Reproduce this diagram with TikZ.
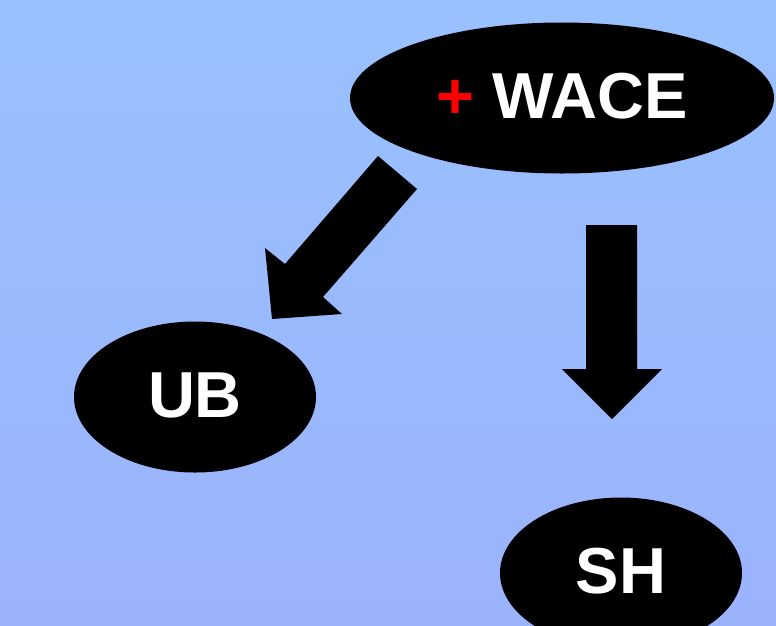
\documentclass[tikz,border=0pt]{standalone}
\usepackage{fontspec}
\setmainfont{Liberation Sans}
\usetikzlibrary{shapes.geometric}
\definecolor{bgtop}{HTML}{99C1FF}
\definecolor{bgbot}{HTML}{9BB3FD}
\tikzset{
  bubble/.style={ellipse, fill=black, inner sep=0pt, text=white,
    font=\bfseries\fontsize{65}{70}\selectfont, text height=48pt, text depth=8pt,
    minimum width=242pt, minimum height=151pt},
  blockarrow/.style={fill=black, draw=none}
}
\begin{document}
\begin{tikzpicture}[x=1pt,y=-1pt]
\shade[top color=bgtop, bottom color=bgbot] (0,0) rectangle (776,625);
\useasboundingbox (0,0) rectangle (776,625);
\node[bubble, minimum width=424pt] (wace) at (562,98) {\textcolor{red}{+} WACE};
\node[bubble] (ub) at (195,397) {UB};
\node[bubble] (sh) at (621,573) {SH};
% diagonal block arrow from WACE towards UB
\coordinate (d1) at (378,156);
\coordinate (d2) at (417,189);
\coordinate (d3) at (323,297);
\coordinate (d4) at (342,314);
\coordinate (dtip) at (272,319);
\coordinate (d5) at (265,248);
\coordinate (d6) at (285,264);
\fill[blockarrow] (d1) -- (d2) -- (d3) -- (d4) -- (dtip) -- (d5) -- (d6) -- cycle;
% vertical block arrow from WACE towards SH
\coordinate (v1) at (586,225);
\coordinate (v2) at (637,225);
\coordinate (v3) at (637,369);
\coordinate (v4) at (662,369);
\coordinate (vtip) at (612,419);
\coordinate (v5) at (562,369);
\coordinate (v6) at (586,369);
\fill[blockarrow] (v1) -- (v2) -- (v3) -- (v4) -- (vtip) -- (v5) -- (v6) -- cycle;
\end{tikzpicture}
\end{document}
